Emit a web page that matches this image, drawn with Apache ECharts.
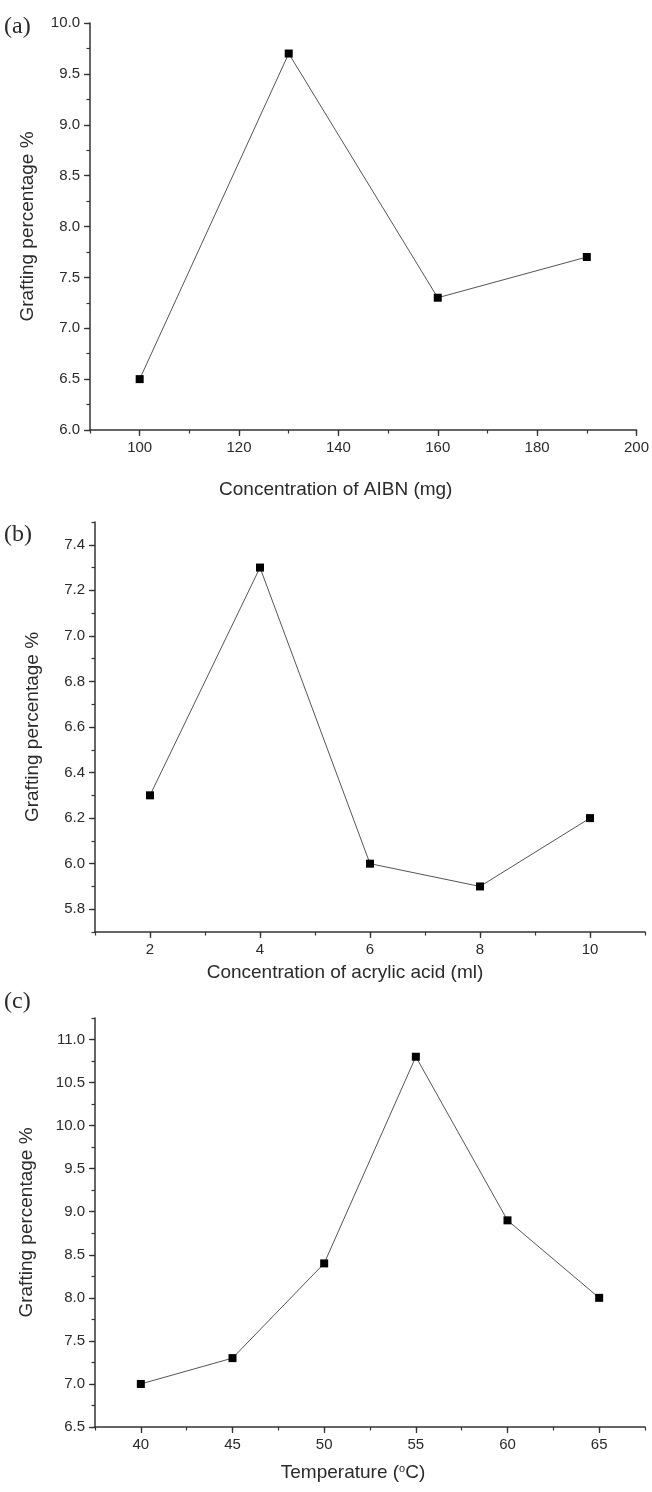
<!DOCTYPE html>
<html>
<head>
<meta charset="utf-8">
<script src="https://cdn.jsdelivr.net/npm/echarts@6/dist/echarts.min.js"></script>
<style>
  html, body { margin: 0; padding: 0; background: #fff; }
  #main { width: 652px; height: 1492px; }
</style>
</head>
<body>
<div id="main"></div>
<script>
var myChart = echarts.init(document.getElementById('main'));

// panel (a): AIBN
var aibnX = [100, 130, 160, 190];
var aibnY = [6.5, 9.7, 7.3, 7.7];
var aibnXTicks = [100, 120, 140, 160, 180, 200];
var aibnYTicks = [6.0, 6.5, 7.0, 7.5, 8.0, 8.5, 9.0, 9.5, 10.0];

// panel (b): acrylic acid
var acidX = [2, 4, 6, 8, 10];
var acidY = [6.3, 7.3, 6.0, 5.9, 6.2];
var acidXTicks = [2, 4, 6, 8, 10];
var acidYTicks = [5.8, 6.0, 6.2, 6.4, 6.6, 6.8, 7.0, 7.2, 7.4];

// panel (c): temperature
var tempX = [40, 45, 50, 55, 60, 65];
var tempY = [7.0, 7.3, 8.4, 10.8, 8.9, 8.0];
var tempXTicks = [40, 45, 50, 55, 60, 65];
var tempYTicks = [6.5, 7.0, 7.5, 8.0, 8.5, 9.0, 9.5, 10.0, 10.5, 11.0];

var txt = '#2a2a2a';
var axisCol = '#333';
var font = 'Liberation Sans, Arial, sans-serif';

function mainAxis(grid, min, max, ticks, digits, name, nameGap, pad) {
    return {
        type: 'value',
        gridIndex: grid,
        min: min,
        max: max,
        name: name,
        nameLocation: 'middle',
        nameGap: nameGap,
        nameTextStyle: {
            color: txt, fontSize: 19, fontFamily: font, padding: pad,
            rich: { sup: { fontSize: 11, verticalAlign: 'top', padding: [0, 0, 9, 0], color: txt, fontFamily: font } }
        },
        axisLine: { show: true, onZero: false, lineStyle: { color: axisCol, width: 1.5 } },
        axisTick: { show: true, inside: false, length: 6, customValues: ticks, lineStyle: { color: axisCol, width: 1.3 } },
        axisLabel: {
            show: true, customValues: ticks, color: txt, fontSize: 15, fontFamily: font, margin: 10,
            formatter: function (v) { return v.toFixed(digits); }
        },
        splitLine: { show: false }
    };
}

function minorAxis(grid, min, max, step) {
    return {
        type: 'value',
        gridIndex: grid,
        min: min,
        max: max,
        interval: step,
        axisLine: { show: false, onZero: false },
        axisTick: { show: true, inside: false, length: 3.5, lineStyle: { color: axisCol, width: 1.2 } },
        axisLabel: { show: false },
        splitLine: { show: false }
    };
}

function series(xi, yi, xs, ys) {
    return {
        type: 'line',
        xAxisIndex: xi,
        yAxisIndex: yi,
        data: xs.map(function (x, i) { return [x, ys[i]]; }),
        symbol: 'rect',
        symbolSize: 8,
        itemStyle: { color: '#000' },
        lineStyle: { color: '#555', width: 1 },
        silent: true,
        z: 5
    };
}

var serif = '24px "Liberation Serif", "Times New Roman", serif';
var yPad = [0, 0, 0, 0];

option = {
    backgroundColor: '#fff',
    animation: false,
    grid: [
        { left: 90, top: 23, width: 550, height: 407 },
        { left: 95, top: 522, width: 550, height: 410 },
        { left: 95, top: 1018, width: 550, height: 409 }
    ],
    xAxis: [
        Object.assign(mainAxis(0, 90, 200, aibnXTicks, 0, 'Concentration of AIBN (mg)', 50, [0, 55, 0, 0]), { position: 'bottom' }),
        Object.assign(minorAxis(0, 90, 200, 10), { position: 'bottom' }),
        Object.assign(mainAxis(1, 1, 11, acidXTicks, 0, 'Concentration of acrylic acid (ml)', 31, [0, 50, 0, 0]), { position: 'bottom' }),
        Object.assign(minorAxis(1, 1, 11, 1), { position: 'bottom' }),
        Object.assign(mainAxis(2, 37.5, 67.5, tempXTicks, 0, 'Temperature ({sup|o}C)', 36, [0, 34, 0, 0]), { position: 'bottom' }),
        Object.assign(minorAxis(2, 37.5, 67.5, 2.5), { position: 'bottom' })
    ],
    yAxis: [
        Object.assign(mainAxis(0, 6, 10, aibnYTicks, 1, 'Grafting percentage %', 53, yPad), { position: 'left' }),
        Object.assign(minorAxis(0, 6, 10, 0.25), { position: 'left' }),
        Object.assign(mainAxis(1, 5.7, 7.5, acidYTicks, 1, 'Grafting percentage %', 53, yPad), { position: 'left' }),
        Object.assign(minorAxis(1, 5.7, 7.5, 0.1), { position: 'left' }),
        Object.assign(mainAxis(2, 6.5, 11.25, tempYTicks, 1, 'Grafting percentage %', 59, yPad), { position: 'left' }),
        Object.assign(minorAxis(2, 6.5, 11.25, 0.25), { position: 'left' })
    ],
    graphic: [
        { type: 'text', left: 4, top: 15, style: { text: '(a)', font: serif, fill: txt } },
        { type: 'text', left: 4, top: 523, style: { text: '(b)', font: serif, fill: txt } },
        { type: 'text', left: 4, top: 990, style: { text: '(c)', font: serif, fill: txt } }
    ],
    series: [
        series(0, 0, aibnX, aibnY),
        series(2, 2, acidX, acidY),
        series(4, 4, tempX, tempY)
    ]
};

myChart.setOption(option);
</script>
</body>
</html>
